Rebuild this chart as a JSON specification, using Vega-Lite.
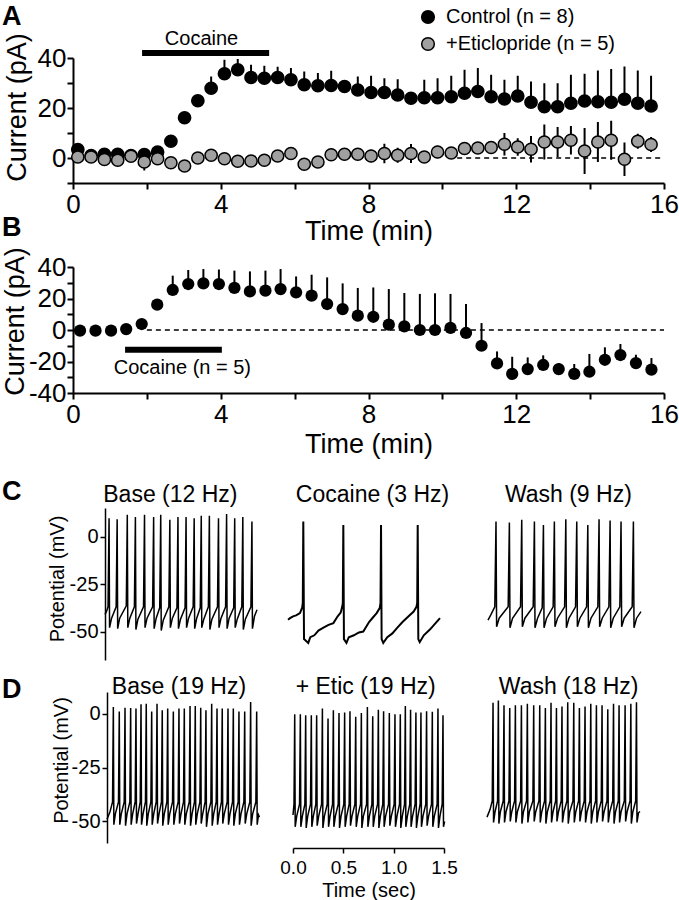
{
  "$schema": "https://vega.github.io/schema/vega-lite/v6.json",
  "autosize": {"type": "none"},
  "padding": {"left": 73, "top": 58, "right": 606, "bottom": 842},
  "spacing": 0,
  "bounds": "flush",
  "datasets": {
    "ptsA": [
      {"t":0.13,"v":3.4,"lo":3.4,"hi":4.4,"group":"Control (n = 8)"},
      {"t":0.49,"v":1.0,"lo":1.0,"hi":2.0,"group":"Control (n = 8)"},
      {"t":0.85,"v":1.5,"lo":1.5,"hi":2.5,"group":"Control (n = 8)"},
      {"t":1.21,"v":1.5,"lo":1.5,"hi":2.5,"group":"Control (n = 8)"},
      {"t":1.57,"v":1.0,"lo":1.0,"hi":2.0,"group":"Control (n = 8)"},
      {"t":1.93,"v":1.4,"lo":1.4,"hi":2.4,"group":"Control (n = 8)"},
      {"t":2.29,"v":2.4,"lo":2.4,"hi":3.4,"group":"Control (n = 8)"},
      {"t":2.65,"v":6.7,"lo":6.7,"hi":8.0,"group":"Control (n = 8)"},
      {"t":3.02,"v":16.1,"lo":16.1,"hi":17.5,"group":"Control (n = 8)"},
      {"t":3.38,"v":22.9,"lo":22.9,"hi":24.5,"group":"Control (n = 8)"},
      {"t":3.74,"v":27.9,"lo":27.9,"hi":32.6,"group":"Control (n = 8)"},
      {"t":4.10,"v":33.7,"lo":33.7,"hi":39.3,"group":"Control (n = 8)"},
      {"t":4.46,"v":35.3,"lo":35.3,"hi":39.6,"group":"Control (n = 8)"},
      {"t":4.82,"v":32.2,"lo":32.2,"hi":37.3,"group":"Control (n = 8)"},
      {"t":5.18,"v":31.9,"lo":31.9,"hi":36.9,"group":"Control (n = 8)"},
      {"t":5.54,"v":32.2,"lo":32.2,"hi":36.5,"group":"Control (n = 8)"},
      {"t":5.90,"v":31.3,"lo":31.3,"hi":36.0,"group":"Control (n = 8)"},
      {"t":6.26,"v":29.3,"lo":29.3,"hi":34.6,"group":"Control (n = 8)"},
      {"t":6.63,"v":28.9,"lo":28.9,"hi":34.0,"group":"Control (n = 8)"},
      {"t":6.99,"v":29.0,"lo":29.0,"hi":34.9,"group":"Control (n = 8)"},
      {"t":7.35,"v":28.6,"lo":28.6,"hi":30.0,"group":"Control (n = 8)"},
      {"t":7.71,"v":27.2,"lo":27.2,"hi":32.6,"group":"Control (n = 8)"},
      {"t":8.07,"v":26.2,"lo":26.2,"hi":32.9,"group":"Control (n = 8)"},
      {"t":8.43,"v":26.2,"lo":26.2,"hi":31.9,"group":"Control (n = 8)"},
      {"t":8.79,"v":25.2,"lo":25.2,"hi":31.5,"group":"Control (n = 8)"},
      {"t":9.15,"v":23.9,"lo":23.9,"hi":25.0,"group":"Control (n = 8)"},
      {"t":9.51,"v":24.1,"lo":24.1,"hi":31.3,"group":"Control (n = 8)"},
      {"t":9.87,"v":24.1,"lo":24.1,"hi":31.9,"group":"Control (n = 8)"},
      {"t":10.24,"v":24.5,"lo":24.5,"hi":32.9,"group":"Control (n = 8)"},
      {"t":10.60,"v":25.9,"lo":25.9,"hi":35.3,"group":"Control (n = 8)"},
      {"t":10.96,"v":26.6,"lo":26.6,"hi":36.0,"group":"Control (n = 8)"},
      {"t":11.32,"v":24.5,"lo":24.5,"hi":33.3,"group":"Control (n = 8)"},
      {"t":11.68,"v":23.6,"lo":23.6,"hi":31.3,"group":"Control (n = 8)"},
      {"t":12.04,"v":24.8,"lo":24.8,"hi":32.9,"group":"Control (n = 8)"},
      {"t":12.40,"v":22.3,"lo":22.3,"hi":30.6,"group":"Control (n = 8)"},
      {"t":12.76,"v":20.5,"lo":20.5,"hi":29.9,"group":"Control (n = 8)"},
      {"t":13.12,"v":20.5,"lo":20.5,"hi":29.9,"group":"Control (n = 8)"},
      {"t":13.48,"v":21.9,"lo":21.9,"hi":33.3,"group":"Control (n = 8)"},
      {"t":13.85,"v":22.8,"lo":22.8,"hi":33.7,"group":"Control (n = 8)"},
      {"t":14.21,"v":22.5,"lo":22.5,"hi":35.0,"group":"Control (n = 8)"},
      {"t":14.57,"v":22.3,"lo":22.3,"hi":35.6,"group":"Control (n = 8)"},
      {"t":14.93,"v":23.5,"lo":23.5,"hi":36.6,"group":"Control (n = 8)"},
      {"t":15.29,"v":21.9,"lo":21.9,"hi":35.0,"group":"Control (n = 8)"},
      {"t":15.65,"v":20.8,"lo":20.8,"hi":32.9,"group":"Control (n = 8)"},
      {"t":0.13,"v":0.4,"lo":-0.6,"hi":1.4,"group":"+Eticlopride (n = 5)"},
      {"t":0.49,"v":0.4,"lo":-0.6,"hi":1.4,"group":"+Eticlopride (n = 5)"},
      {"t":0.85,"v":-0.6,"lo":-1.6,"hi":0.4,"group":"+Eticlopride (n = 5)"},
      {"t":1.21,"v":-0.9,"lo":-1.9,"hi":0.1,"group":"+Eticlopride (n = 5)"},
      {"t":1.57,"v":0.7,"lo":-0.3,"hi":1.7,"group":"+Eticlopride (n = 5)"},
      {"t":1.93,"v":-1.6,"lo":-5.0,"hi":1.8,"group":"+Eticlopride (n = 5)"},
      {"t":2.29,"v":-0.3,"lo":-1.3,"hi":0.7,"group":"+Eticlopride (n = 5)"},
      {"t":2.65,"v":-1.9,"lo":-3.4,"hi":-0.4,"group":"+Eticlopride (n = 5)"},
      {"t":3.02,"v":-3.2,"lo":-5.2,"hi":-1.2,"group":"+Eticlopride (n = 5)"},
      {"t":3.38,"v":0.0,"lo":-1.0,"hi":1.0,"group":"+Eticlopride (n = 5)"},
      {"t":3.74,"v":1.1,"lo":0.1,"hi":2.1,"group":"+Eticlopride (n = 5)"},
      {"t":4.10,"v":-0.3,"lo":-1.3,"hi":0.7,"group":"+Eticlopride (n = 5)"},
      {"t":4.46,"v":-1.3,"lo":-2.3,"hi":-0.3,"group":"+Eticlopride (n = 5)"},
      {"t":4.82,"v":-1.2,"lo":-2.2,"hi":-0.2,"group":"+Eticlopride (n = 5)"},
      {"t":5.18,"v":-0.9,"lo":-1.9,"hi":0.1,"group":"+Eticlopride (n = 5)"},
      {"t":5.54,"v":0.8,"lo":-0.2,"hi":1.8,"group":"+Eticlopride (n = 5)"},
      {"t":5.90,"v":1.8,"lo":0.8,"hi":2.8,"group":"+Eticlopride (n = 5)"},
      {"t":6.26,"v":-2.5,"lo":-4.0,"hi":-1.0,"group":"+Eticlopride (n = 5)"},
      {"t":6.63,"v":-1.6,"lo":-3.1,"hi":-0.1,"group":"+Eticlopride (n = 5)"},
      {"t":6.99,"v":1.3,"lo":-1.2,"hi":3.8,"group":"+Eticlopride (n = 5)"},
      {"t":7.35,"v":1.5,"lo":0.5,"hi":2.5,"group":"+Eticlopride (n = 5)"},
      {"t":7.71,"v":1.5,"lo":0.5,"hi":2.5,"group":"+Eticlopride (n = 5)"},
      {"t":8.07,"v":0.8,"lo":-1.7,"hi":3.3,"group":"+Eticlopride (n = 5)"},
      {"t":8.43,"v":1.8,"lo":-2.1,"hi":5.7,"group":"+Eticlopride (n = 5)"},
      {"t":8.79,"v":1.1,"lo":-1.9,"hi":4.1,"group":"+Eticlopride (n = 5)"},
      {"t":9.15,"v":1.8,"lo":-2.0,"hi":5.6,"group":"+Eticlopride (n = 5)"},
      {"t":9.51,"v":0.4,"lo":-0.6,"hi":1.4,"group":"+Eticlopride (n = 5)"},
      {"t":9.87,"v":2.4,"lo":-0.1,"hi":4.9,"group":"+Eticlopride (n = 5)"},
      {"t":10.24,"v":2.0,"lo":1.0,"hi":3.0,"group":"+Eticlopride (n = 5)"},
      {"t":10.60,"v":3.8,"lo":2.8,"hi":4.8,"group":"+Eticlopride (n = 5)"},
      {"t":10.96,"v":4.0,"lo":2.0,"hi":6.0,"group":"+Eticlopride (n = 5)"},
      {"t":11.32,"v":4.2,"lo":1.7,"hi":6.7,"group":"+Eticlopride (n = 5)"},
      {"t":11.68,"v":5.5,"lo":1.0,"hi":10.0,"group":"+Eticlopride (n = 5)"},
      {"t":12.04,"v":4.4,"lo":0.9,"hi":7.9,"group":"+Eticlopride (n = 5)"},
      {"t":12.40,"v":3.5,"lo":-1.8,"hi":8.8,"group":"+Eticlopride (n = 5)"},
      {"t":12.76,"v":6.4,"lo":-0.6,"hi":13.4,"group":"+Eticlopride (n = 5)"},
      {"t":13.12,"v":6.4,"lo":0.4,"hi":12.4,"group":"+Eticlopride (n = 5)"},
      {"t":13.48,"v":7.1,"lo":1.4,"hi":12.8,"group":"+Eticlopride (n = 5)"},
      {"t":13.85,"v":2.8,"lo":-6.4,"hi":12.0,"group":"+Eticlopride (n = 5)"},
      {"t":14.21,"v":6.4,"lo":-1.6,"hi":14.4,"group":"+Eticlopride (n = 5)"},
      {"t":14.57,"v":7.1,"lo":-0.7,"hi":14.9,"group":"+Eticlopride (n = 5)"},
      {"t":14.93,"v":-0.5,"lo":-7.2,"hi":6.2,"group":"+Eticlopride (n = 5)"},
      {"t":15.29,"v":6.7,"lo":3.7,"hi":9.7,"group":"+Eticlopride (n = 5)"},
      {"t":15.65,"v":5.4,"lo":2.4,"hi":8.4,"group":"+Eticlopride (n = 5)"}
    ],
    "ptsB": [
      {"t":0.19,"v":-0.4,"hi":1.0},{"t":0.61,"v":-0.4,"hi":1.0},{"t":1.03,"v":-0.4,"hi":1.0},
      {"t":1.44,"v":0.6,"hi":2.0},{"t":1.86,"v":3.8,"hi":5.0},{"t":2.28,"v":16.1,"hi":18.0},
      {"t":2.70,"v":25.4,"hi":34.5},{"t":3.12,"v":29.2,"hi":38.1},{"t":3.53,"v":29.6,"hi":38.7},
      {"t":3.95,"v":29.2,"hi":38.4},{"t":4.37,"v":26.7,"hi":37.7},{"t":4.79,"v":24.5,"hi":37.2},
      {"t":5.21,"v":25.0,"hi":37.7},{"t":5.62,"v":26.0,"hi":38.7},{"t":6.04,"v":23.9,"hi":34.0},
      {"t":6.46,"v":21.8,"hi":35.1},{"t":6.88,"v":16.5,"hi":33.4},{"t":7.30,"v":13.3,"hi":29.6},
      {"t":7.71,"v":9.1,"hi":26.7},{"t":8.13,"v":8.4,"hi":27.0},{"t":8.55,"v":3.4,"hi":26.0},
      {"t":8.97,"v":2.3,"hi":23.5},{"t":9.39,"v":0.0,"hi":22.9},{"t":9.80,"v":0.0,"hi":23.3},
      {"t":10.22,"v":1.3,"hi":22.9},{"t":10.64,"v":-1.9,"hi":16.5},{"t":11.06,"v":-10.0,"hi":4.4},
      {"t":11.48,"v":-21.2,"hi":-13.6},{"t":11.89,"v":-27.9,"hi":-17.0},{"t":12.31,"v":-24.8,"hi":-17.4},
      {"t":12.73,"v":-22.2,"hi":-16.1},{"t":13.15,"v":-24.8,"hi":-21.0},{"t":13.57,"v":-27.9,"hi":-21.6},
      {"t":13.98,"v":-26.5,"hi":-15.2},{"t":14.40,"v":-18.9,"hi":-11.0},{"t":14.82,"v":-15.9,"hi":-8.9},
      {"t":15.24,"v":-21.0,"hi":-15.7},{"t":15.66,"v":-25.2,"hi":-17.8}
    ],
    "cocA": [{"t":1.87,"t2":5.31,"v":42,"label":"Cocaine"}],
    "cocB": [{"t":1.41,"t2":4.03,"v":-12.5,"label":"Cocaine (n = 5)"}],
    "zeroA": [{"t":10.4,"t2":16,"v":0}],
    "zeroB": [{"t":2.0,"t2":16,"v":0}],
    "lblC": [{"label":"C"}],
    "lblD": [{"label":"D"}],
    "tC1": [{"label":"Base (12 Hz)"}],
    "tC2": [{"label":"Cocaine (3 Hz)"}],
    "tC3": [{"label":"Wash (9 Hz)"}],
    "tD1": [{"label":"Base (19 Hz)"}],
    "tD2": [{"label":"+ Etic (19 Hz)"}],
    "tD3": [{"label":"Wash (18 Hz)"}],
    "c1": [
      {"t":0,"v":-41},{"t":0.015,"v":-39.5},
      {"t":0.03,"v":-37},{"t":0.04,"v":9.6},{"t":0.045,"v":-48},{"t":0.065,"v":-43},
      {"t":0.11,"v":-37},{"t":0.12,"v":9.1},{"t":0.125,"v":-48.5},{"t":0.145,"v":-43},
      {"t":0.21,"v":-36.5},{"t":0.22,"v":11.4},{"t":0.225,"v":-48},{"t":0.245,"v":-43},
      {"t":0.29,"v":-37},{"t":0.30,"v":10.2},{"t":0.305,"v":-49},{"t":0.325,"v":-43.5},
      {"t":0.38,"v":-37},{"t":0.39,"v":11.4},{"t":0.395,"v":-48},{"t":0.415,"v":-43},
      {"t":0.47,"v":-37},{"t":0.48,"v":10.2},{"t":0.485,"v":-48.5},{"t":0.505,"v":-43},
      {"t":0.54,"v":-37.5},{"t":0.55,"v":11.4},{"t":0.555,"v":-49.5},{"t":0.575,"v":-44},
      {"t":0.63,"v":-37},{"t":0.64,"v":8.8},{"t":0.645,"v":-48},{"t":0.665,"v":-43},
      {"t":0.71,"v":-37.5},{"t":0.72,"v":10.2},{"t":0.725,"v":-48.5},{"t":0.745,"v":-43.5},
      {"t":0.79,"v":-37.5},{"t":0.80,"v":10.2},{"t":0.805,"v":-48},{"t":0.825,"v":-43},
      {"t":0.87,"v":-37},{"t":0.88,"v":9.6},{"t":0.885,"v":-48.5},{"t":0.905,"v":-43},
      {"t":0.94,"v":-37.5},{"t":0.95,"v":10.9},{"t":0.955,"v":-48},{"t":0.975,"v":-43.5},
      {"t":1.02,"v":-37},{"t":1.03,"v":10.9},{"t":1.035,"v":-49},{"t":1.055,"v":-43.5},
      {"t":1.11,"v":-37},{"t":1.12,"v":9.6},{"t":1.125,"v":-48},{"t":1.145,"v":-43},
      {"t":1.19,"v":-37},{"t":1.20,"v":11.8},{"t":1.205,"v":-48.5},{"t":1.225,"v":-43},
      {"t":1.27,"v":-37.5},{"t":1.28,"v":9.6},{"t":1.285,"v":-48},{"t":1.305,"v":-43.5},
      {"t":1.35,"v":-37},{"t":1.36,"v":10.2},{"t":1.365,"v":-49},{"t":1.385,"v":-43.5},
      {"t":1.44,"v":-37},{"t":1.45,"v":7.9},{"t":1.455,"v":-48.5},{"t":1.475,"v":-42},
      {"t":1.50,"v":-38.5}
    ],
    "c2": [
      {"t":0,"v":-43.8},{"t":0.02,"v":-43},{"t":0.05,"v":-42},{"t":0.08,"v":-41.5},{"t":0.118,"v":-40.3},
      {"t":0.14,"v":-37.5},{"t":0.146,"v":-35},{"t":0.151,"v":7.9},{"t":0.158,"v":-54},{"t":0.20,"v":-56},
      {"t":0.22,"v":-53},{"t":0.26,"v":-52},{"t":0.30,"v":-49.5},{"t":0.35,"v":-48},{"t":0.40,"v":-46.5},
      {"t":0.448,"v":-45.6},{"t":0.49,"v":-42},{"t":0.52,"v":-40},{"t":0.535,"v":-37},{"t":0.541,"v":-35},
      {"t":0.546,"v":6.1},{"t":0.552,"v":-54},{"t":0.577,"v":-56},{"t":0.60,"v":-53},{"t":0.65,"v":-52},
      {"t":0.70,"v":-50.5},{"t":0.743,"v":-50},{"t":0.80,"v":-45},{"t":0.84,"v":-42.5},{"t":0.875,"v":-40.3},
      {"t":0.905,"v":-37.7},{"t":0.913,"v":-35},{"t":0.918,"v":6.1},{"t":0.924,"v":-54},{"t":0.94,"v":-56},
      {"t":0.98,"v":-53},{"t":1.03,"v":-51},{"t":1.075,"v":-48.2},{"t":1.13,"v":-45},{"t":1.19,"v":-42},
      {"t":1.24,"v":-39.5},{"t":1.268,"v":-37},{"t":1.275,"v":-35},{"t":1.28,"v":6.1},{"t":1.286,"v":-54},
      {"t":1.30,"v":-55.6},{"t":1.34,"v":-52},{"t":1.40,"v":-49},{"t":1.45,"v":-46},{"t":1.50,"v":-43}
    ],
    "c3": [
      {"t":0,"v":-44},{"t":0.03,"v":-41},
      {"t":0.067,"v":-37},{"t":0.079,"v":7.9},{"t":0.085,"v":-47.5},{"t":0.11,"v":-43},
      {"t":0.199,"v":-37},{"t":0.211,"v":7.4},{"t":0.217,"v":-48},{"t":0.242,"v":-43},
      {"t":0.321,"v":-37},{"t":0.333,"v":8.8},{"t":0.339,"v":-47.5},{"t":0.364,"v":-43},
      {"t":0.446,"v":-37},{"t":0.458,"v":7.9},{"t":0.464,"v":-48},{"t":0.489,"v":-43},
      {"t":0.535,"v":-37.5},{"t":0.547,"v":6.1},{"t":0.553,"v":-48},{"t":0.578,"v":-43},
      {"t":0.643,"v":-37},{"t":0.655,"v":7.9},{"t":0.661,"v":-47.5},{"t":0.686,"v":-43},
      {"t":0.756,"v":-37},{"t":0.768,"v":9.1},{"t":0.774,"v":-48},{"t":0.799,"v":-43},
      {"t":0.864,"v":-37},{"t":0.876,"v":7.9},{"t":0.882,"v":-47.5},{"t":0.907,"v":-43},
      {"t":0.973,"v":-37},{"t":0.985,"v":6.1},{"t":0.991,"v":-48},{"t":1.016,"v":-43},
      {"t":1.084,"v":-37},{"t":1.096,"v":9.1},{"t":1.102,"v":-47.5},{"t":1.127,"v":-43},
      {"t":1.193,"v":-37},{"t":1.205,"v":8.4},{"t":1.211,"v":-48},{"t":1.236,"v":-43},
      {"t":1.301,"v":-37},{"t":1.313,"v":7.9},{"t":1.319,"v":-47.5},{"t":1.344,"v":-43},
      {"t":1.423,"v":-37},{"t":1.435,"v":7.9},{"t":1.441,"v":-48},{"t":1.466,"v":-43},
      {"t":1.51,"v":-39.5}
    ],
    "d1": [
      {"t":0,"v":-49},{"t":0.03,"v":-45.5},
      {"t":0.055,"v":-41},{"t":0.063,"v":3.0},{"t":0.068,"v":-51.5},{"t":0.083,"v":-46.5},
      {"t":0.114,"v":-41},{"t":0.122,"v":1.0},{"t":0.127,"v":-51.5},{"t":0.142,"v":-46.5},
      {"t":0.171,"v":-41},{"t":0.179,"v":2.7},{"t":0.184,"v":-52},{"t":0.199,"v":-46.5},
      {"t":0.227,"v":-41},{"t":0.235,"v":2.6},{"t":0.240,"v":-51.5},{"t":0.255,"v":-46.5},
      {"t":0.280,"v":-41},{"t":0.288,"v":2.3},{"t":0.293,"v":-51},{"t":0.308,"v":-46.5},
      {"t":0.330,"v":-41},{"t":0.338,"v":4.3},{"t":0.343,"v":-51.5},{"t":0.358,"v":-46.5},
      {"t":0.382,"v":-41},{"t":0.390,"v":4.6},{"t":0.395,"v":-52},{"t":0.410,"v":-46.5},
      {"t":0.436,"v":-41},{"t":0.444,"v":1.0},{"t":0.449,"v":-51.5},{"t":0.464,"v":-46.5},
      {"t":0.489,"v":-41},{"t":0.497,"v":4.6},{"t":0.502,"v":-51},{"t":0.517,"v":-46.5},
      {"t":0.541,"v":-41},{"t":0.549,"v":1.5},{"t":0.554,"v":-52},{"t":0.569,"v":-46.5},
      {"t":0.595,"v":-41},{"t":0.603,"v":2.3},{"t":0.608,"v":-51.5},{"t":0.623,"v":-46.5},
      {"t":0.651,"v":-41},{"t":0.659,"v":1.0},{"t":0.664,"v":-51.5},{"t":0.679,"v":-46.5},
      {"t":0.707,"v":-41},{"t":0.715,"v":2.3},{"t":0.720,"v":-51},{"t":0.735,"v":-46.5},
      {"t":0.760,"v":-41},{"t":0.768,"v":2.3},{"t":0.773,"v":-51.5},{"t":0.788,"v":-46.5},
      {"t":0.817,"v":-41},{"t":0.825,"v":3.5},{"t":0.830,"v":-52},{"t":0.845,"v":-46.5},
      {"t":0.869,"v":-41},{"t":0.877,"v":3.5},{"t":0.882,"v":-51.5},{"t":0.897,"v":-46.5},
      {"t":0.923,"v":-41},{"t":0.931,"v":2.7},{"t":0.936,"v":-51},{"t":0.951,"v":-46.5},
      {"t":0.975,"v":-41},{"t":0.983,"v":1.5},{"t":0.988,"v":-52.5},{"t":1.003,"v":-46.5},
      {"t":1.032,"v":-41},{"t":1.040,"v":4.6},{"t":1.045,"v":-52},{"t":1.060,"v":-46.5},
      {"t":1.085,"v":-41},{"t":1.093,"v":2.3},{"t":1.098,"v":-51.5},{"t":1.113,"v":-46.5},
      {"t":1.137,"v":-41},{"t":1.145,"v":2.3},{"t":1.150,"v":-51},{"t":1.165,"v":-46.5},
      {"t":1.194,"v":-41},{"t":1.202,"v":2.3},{"t":1.207,"v":-51.5},{"t":1.222,"v":-46.5},
      {"t":1.247,"v":-41},{"t":1.255,"v":2.3},{"t":1.260,"v":-52},{"t":1.275,"v":-46.5},
      {"t":1.303,"v":-41},{"t":1.311,"v":1.0},{"t":1.316,"v":-51.5},{"t":1.331,"v":-46.5},
      {"t":1.360,"v":-41},{"t":1.368,"v":1.0},{"t":1.373,"v":-51},{"t":1.388,"v":-46.5},
      {"t":1.419,"v":-41},{"t":1.427,"v":5.4},{"t":1.432,"v":-52},{"t":1.447,"v":-46.5},
      {"t":1.479,"v":-41},{"t":1.487,"v":1.0},{"t":1.492,"v":-51.5},{"t":1.505,"v":-47},
      {"t":1.515,"v":-48}
    ],
    "d2": [
      {"t":0,"v":-47},
      {"t":0.010,"v":-42},{"t":0.017,"v":-0.3},{"t":0.022,"v":-52.5},{"t":0.037,"v":-47.5},
      {"t":0.065,"v":-42},{"t":0.073,"v":-0.3},{"t":0.078,"v":-52.5},{"t":0.093,"v":-47.5},
      {"t":0.118,"v":-42},{"t":0.126,"v":-0.8},{"t":0.131,"v":-53},{"t":0.146,"v":-47.5},
      {"t":0.174,"v":-42},{"t":0.182,"v":-0.8},{"t":0.187,"v":-52.5},{"t":0.202,"v":-47.5},
      {"t":0.227,"v":-42},{"t":0.235,"v":-0.8},{"t":0.240,"v":-52},{"t":0.255,"v":-47.5},
      {"t":0.284,"v":-42},{"t":0.292,"v":2.3},{"t":0.297,"v":-53},{"t":0.312,"v":-47.5},
      {"t":0.340,"v":-42},{"t":0.348,"v":-2.3},{"t":0.353,"v":-52.5},{"t":0.368,"v":-47.5},
      {"t":0.393,"v":-42},{"t":0.401,"v":1.5},{"t":0.406,"v":-52.5},{"t":0.421,"v":-47.5},
      {"t":0.449,"v":-42},{"t":0.457,"v":0.3},{"t":0.462,"v":-53},{"t":0.477,"v":-47.5},
      {"t":0.505,"v":-42},{"t":0.513,"v":0.5},{"t":0.518,"v":-52.5},{"t":0.533,"v":-47.5},
      {"t":0.558,"v":-42},{"t":0.566,"v":1.1},{"t":0.571,"v":-52},{"t":0.586,"v":-47.5},
      {"t":0.615,"v":-42},{"t":0.623,"v":-1.5},{"t":0.628,"v":-52.5},{"t":0.643,"v":-47.5},
      {"t":0.671,"v":-42},{"t":0.679,"v":0.3},{"t":0.684,"v":-53},{"t":0.699,"v":-47.5},
      {"t":0.731,"v":-42},{"t":0.739,"v":3.0},{"t":0.744,"v":-52.5},{"t":0.759,"v":-47.5},
      {"t":0.784,"v":-42},{"t":0.792,"v":-1.2},{"t":0.797,"v":-52.5},{"t":0.812,"v":-47.5},
      {"t":0.840,"v":-42},{"t":0.848,"v":1.8},{"t":0.853,"v":-53},{"t":0.868,"v":-47.5},
      {"t":0.892,"v":-42},{"t":0.900,"v":1.1},{"t":0.905,"v":-52.5},{"t":0.920,"v":-47.5},
      {"t":0.949,"v":-42},{"t":0.957,"v":0.3},{"t":0.962,"v":-52},{"t":0.977,"v":-47.5},
      {"t":1.005,"v":-42},{"t":1.013,"v":-0.3},{"t":1.018,"v":-52.5},{"t":1.033,"v":-47.5},
      {"t":1.058,"v":-42},{"t":1.066,"v":-0.3},{"t":1.071,"v":-53},{"t":1.086,"v":-47.5},
      {"t":1.108,"v":-42},{"t":1.116,"v":3.5},{"t":1.121,"v":-52.5},{"t":1.136,"v":-47.5},
      {"t":1.160,"v":-42},{"t":1.168,"v":1.8},{"t":1.173,"v":-52.5},{"t":1.188,"v":-47.5},
      {"t":1.213,"v":-42},{"t":1.221,"v":0.5},{"t":1.226,"v":-53},{"t":1.241,"v":-47.5},
      {"t":1.263,"v":-42},{"t":1.271,"v":0.5},{"t":1.276,"v":-52.5},{"t":1.291,"v":-47.5},
      {"t":1.319,"v":-42},{"t":1.327,"v":1.1},{"t":1.332,"v":-52},{"t":1.347,"v":-47.5},
      {"t":1.376,"v":-42},{"t":1.384,"v":0.8},{"t":1.389,"v":-52.5},{"t":1.404,"v":-47.5},
      {"t":1.432,"v":-42},{"t":1.440,"v":2.3},{"t":1.445,"v":-53},{"t":1.460,"v":-47.5},
      {"t":1.482,"v":-42},{"t":1.490,"v":-0.8},{"t":1.495,"v":-52.5},{"t":1.506,"v":-50}
    ],
    "d3": [
      {"t":0,"v":-48},{"t":0.03,"v":-44.5},
      {"t":0.052,"v":-40.5},{"t":0.060,"v":5.0},{"t":0.065,"v":-50.5},{"t":0.080,"v":-45.5},
      {"t":0.105,"v":-40.5},{"t":0.113,"v":6.1},{"t":0.118,"v":-51},{"t":0.133,"v":-45.5},
      {"t":0.161,"v":-40.5},{"t":0.169,"v":3.8},{"t":0.174,"v":-50.5},{"t":0.189,"v":-45.5},
      {"t":0.218,"v":-40.5},{"t":0.226,"v":2.6},{"t":0.231,"v":-50},{"t":0.246,"v":-45.5},
      {"t":0.274,"v":-40.5},{"t":0.282,"v":3.8},{"t":0.287,"v":-50.5},{"t":0.302,"v":-45.5},
      {"t":0.334,"v":-40.5},{"t":0.342,"v":3.8},{"t":0.347,"v":-51},{"t":0.362,"v":-45.5},
      {"t":0.393,"v":-40.5},{"t":0.401,"v":4.6},{"t":0.406,"v":-50.5},{"t":0.421,"v":-45.5},
      {"t":0.456,"v":-40.5},{"t":0.464,"v":3.8},{"t":0.469,"v":-50},{"t":0.484,"v":-45.5},
      {"t":0.516,"v":-40.5},{"t":0.524,"v":3.8},{"t":0.529,"v":-50.5},{"t":0.544,"v":-45.5},
      {"t":0.572,"v":-40.5},{"t":0.580,"v":2.6},{"t":0.585,"v":-51},{"t":0.600,"v":-45.5},
      {"t":0.628,"v":-40.5},{"t":0.636,"v":5.0},{"t":0.641,"v":-50.5},{"t":0.656,"v":-45.5},
      {"t":0.682,"v":-40.5},{"t":0.690,"v":2.6},{"t":0.695,"v":-50},{"t":0.710,"v":-45.5},
      {"t":0.737,"v":-40.5},{"t":0.745,"v":3.3},{"t":0.750,"v":-50.5},{"t":0.765,"v":-45.5},
      {"t":0.794,"v":-40.5},{"t":0.802,"v":5.3},{"t":0.807,"v":-51},{"t":0.822,"v":-45.5},
      {"t":0.854,"v":-40.5},{"t":0.862,"v":5.0},{"t":0.867,"v":-50.5},{"t":0.882,"v":-45.5},
      {"t":0.910,"v":-40.5},{"t":0.918,"v":2.6},{"t":0.923,"v":-50},{"t":0.938,"v":-45.5},
      {"t":0.966,"v":-40.5},{"t":0.974,"v":3.3},{"t":0.979,"v":-50.5},{"t":0.994,"v":-45.5},
      {"t":1.023,"v":-40.5},{"t":1.031,"v":4.6},{"t":1.036,"v":-51},{"t":1.051,"v":-45.5},
      {"t":1.079,"v":-40.5},{"t":1.087,"v":3.8},{"t":1.092,"v":-50.5},{"t":1.107,"v":-45.5},
      {"t":1.135,"v":-40.5},{"t":1.143,"v":3.8},{"t":1.148,"v":-50},{"t":1.163,"v":-45.5},
      {"t":1.192,"v":-40.5},{"t":1.200,"v":2.0},{"t":1.205,"v":-50.5},{"t":1.220,"v":-45.5},
      {"t":1.249,"v":-40.5},{"t":1.257,"v":4.6},{"t":1.262,"v":-51},{"t":1.277,"v":-45.5},
      {"t":1.304,"v":-40.5},{"t":1.312,"v":3.8},{"t":1.317,"v":-50.5},{"t":1.332,"v":-45.5},
      {"t":1.364,"v":-40.5},{"t":1.372,"v":3.8},{"t":1.377,"v":-50},{"t":1.392,"v":-45.5},
      {"t":1.421,"v":-40.5},{"t":1.429,"v":4.6},{"t":1.434,"v":-51},{"t":1.449,"v":-45.5},
      {"t":1.477,"v":-40.5},{"t":1.485,"v":5.3},{"t":1.490,"v":-50.5},{"t":1.505,"v":-46},
      {"t":1.52,"v":-45.4}
    ]
  },
  "vconcat": [
    {
      "width": 591, "height": 125,
      "encoding": {
        "x": {"field": "t", "type": "quantitative", "scale": {"domain": [0, 16], "nice": false, "zero": false},
          "axis": {"values": [0,2,4,6,8,10,12,14,16], "labelExpr": "datum.value % 4 === 0 ? datum.label : ''", "title": "Time (min)", "tickSize": 6, "labelPadding": 2, "labelFontSize": 26, "titleFontSize": 27, "titleY": 56, "titleBaseline": "alphabetic"}},
        "y": {"field": "v", "type": "quantitative", "scale": {"domain": [-10, 40], "nice": false, "zero": false},
          "axis": {"values": [-10,0,10,20,30,40], "labelExpr": "datum.value % 20 === 0 ? '' + datum.value : ''", "title": "Current (pA)", "tickSize": 6, "labelPadding": 1, "labelFontSize": 26, "titleFontSize": 27, "titleX": -48, "titleY": 49, "titleBaseline": "alphabetic"}}
      },
      "layer": [
        {"data": {"name": "cocA"}, "mark": {"type": "rule", "strokeWidth": 6, "color": "black", "strokeCap": "butt"}, "encoding": {"x2": {"field": "t2"}}},
        {"data": {"name": "cocA"}, "mark": {"type": "text", "fontSize": 20, "align": "center", "baseline": "alphabetic", "color": "black"}, "encoding": {"x": {"datum": 3.48}, "y": {"datum": 45.4}, "text": {"field": "label"}}},
        {"data": {"name": "zeroA"}, "mark": {"type": "rule", "strokeWidth": 1.5, "color": "black", "strokeDash": [5, 4]}, "encoding": {"x2": {"field": "t2"}}},
        {"data": {"name": "ptsA"}, "mark": {"type": "rule", "strokeWidth": 2, "color": "black"}, "encoding": {"y": {"field": "lo", "type": "quantitative"}, "y2": {"field": "hi"}}},
        {"data": {"name": "ptsA"}, "mark": {"type": "circle", "size": 150, "opacity": 1, "stroke": "black", "strokeWidth": 1.5},
          "encoding": {"fill": {"field": "group", "type": "nominal", "scale": {"domain": ["Control (n = 8)", "+Eticlopride (n = 5)"], "range": ["black", "#a0a0a0"]},
            "legend": {"orient": "none", "legendX": 345, "legendY": -51, "title": null, "direction": "vertical", "labelFontSize": 20, "labelFont": "Liberation Sans", "labelColor": "black", "labelLimit": 400, "symbolSize": 160, "symbolType": "circle", "symbolStrokeColor": "black", "symbolStrokeWidth": 1.5, "symbolOpacity": 1, "rowPadding": 7, "labelOffset": 8, "padding": 0}}}},
        {"data": {"name": "cocA"}, "mark": {"type": "text", "fontSize": 27, "fontWeight": "bold", "align": "left", "baseline": "alphabetic", "color": "black"}, "encoding": {"x": {"datum": -1.92}, "y": {"datum": 53.4}, "text": {"value": "A"}}}
      ]
    },
    {
      "width": 591, "height": 210,
      "encoding": {
        "x": {"field": "t", "type": "quantitative", "scale": {"domain": [0, 16], "nice": false, "zero": false},
          "axis": {"values": [0,2,4,6,8,10,12,14,16], "labelExpr": "datum.value % 4 === 0 ? datum.label : ''", "title": "Time (min)", "tickSize": 6, "labelPadding": 2, "labelFontSize": 26, "titleFontSize": 27, "titleY": 59, "titleBaseline": "alphabetic"}},
        "y": {"field": "v", "type": "quantitative", "scale": {"domain": [-40, 40], "range": [210, 84], "nice": false, "zero": false},
          "axis": {"values": [-40,-30,-20,-10,0,10,20,30,40], "labelExpr": "datum.value % 20 === 0 ? '' + datum.value : ''", "title": "Current (pA)", "tickSize": 6, "labelPadding": 1, "labelFontSize": 26, "titleFontSize": 27, "titleX": -50, "titleY": 138, "titleBaseline": "alphabetic"}}
      },
      "layer": [
        {"data": {"name": "cocB"}, "mark": {"type": "rule", "strokeWidth": 6, "color": "black", "strokeCap": "butt"}, "encoding": {"x2": {"field": "t2"}}},
        {"data": {"name": "cocB"}, "mark": {"type": "text", "fontSize": 20, "align": "center", "baseline": "alphabetic", "color": "black"}, "encoding": {"x": {"datum": 2.96}, "y": {"datum": -27.9}, "text": {"field": "label"}}},
        {"data": {"name": "zeroB"}, "mark": {"type": "rule", "strokeWidth": 1.5, "color": "black", "strokeDash": [5, 4]}, "encoding": {"x2": {"field": "t2"}}},
        {"data": {"name": "ptsB"}, "mark": {"type": "rule", "strokeWidth": 2, "color": "black"}, "encoding": {"y2": {"field": "hi"}}},
        {"data": {"name": "ptsB"}, "mark": {"type": "circle", "size": 150, "opacity": 1, "color": "black"}},
        {"data": {"name": "cocB"}, "mark": {"type": "text", "fontSize": 27, "fontWeight": "bold", "align": "left", "baseline": "alphabetic", "color": "black"}, "encoding": {"x": {"datum": -1.92}, "y": {"datum": 59.9}, "text": {"value": "B"}}}
      ]
    },
    {
      "width": 591, "height": 267,
      "resolve": {"scale": {"x": "independent"}, "axis": {"x": "independent"}},
      "layer": [
        {
          "layer": [
            {"data": {"name": "c1"}, "mark": {"type": "line", "color": "black", "strokeWidth": 1.5},
              "encoding": {
                "x": {"field": "t", "type": "quantitative", "scale": {"domain": [0, 1.5], "range": [32, 184], "nice": false, "zero": false}, "axis": null},
                "y": {"field": "v", "type": "quantitative", "scale": {"domain": [-65, 15], "range": [267, 115], "nice": false, "zero": false},
                  "axis": {"values": [0, -25, -50], "labelExpr": "'' + datum.value", "title": "Potential (mV)", "offset": -32, "tickSize": 5, "labelPadding": 2, "labelFontSize": 20, "titleFontSize": 20, "titleX": -42, "titleY": 185.5, "titleBaseline": "alphabetic", "domainWidth": 1.5, "tickWidth": 1.5}}}},
            {"data": {"name": "tC1"}, "mark": {"type": "text", "fontSize": 23, "align": "center", "baseline": "alphabetic", "color": "black"},
              "encoding": {"x": {"datum": 0.645, "axis": null}, "y": {"datum": 18.3}, "text": {"field": "label"}}},
            {"data": {"name": "lblC"}, "mark": {"type": "text", "fontSize": 27, "fontWeight": "bold", "align": "left", "baseline": "alphabetic", "color": "black"},
              "encoding": {"x": {"datum": -1.017, "axis": null}, "y": {"datum": 19.3}, "text": {"field": "label"}}}
          ]
        },
        {
          "layer": [
            {"data": {"name": "c2"}, "mark": {"type": "line", "color": "black", "strokeWidth": 2},
              "encoding": {
                "x": {"field": "t", "type": "quantitative", "scale": {"domain": [0, 1.5], "range": [215, 367], "nice": false, "zero": false}, "axis": null},
                "y": {"field": "v", "type": "quantitative"}}},
            {"data": {"name": "tC2"}, "mark": {"type": "text", "fontSize": 23, "align": "center", "baseline": "alphabetic", "color": "black"},
              "encoding": {"x": {"datum": 0.834, "axis": null}, "y": {"datum": 18.3}, "text": {"field": "label"}}}
          ]
        },
        {
          "layer": [
            {"data": {"name": "c3"}, "mark": {"type": "line", "color": "black", "strokeWidth": 1.5},
              "encoding": {
                "x": {"field": "t", "type": "quantitative", "scale": {"domain": [0, 1.51], "range": [415, 568], "nice": false, "zero": false}, "axis": null},
                "y": {"field": "v", "type": "quantitative"}}},
            {"data": {"name": "tC3"}, "mark": {"type": "text", "fontSize": 23, "align": "center", "baseline": "alphabetic", "color": "black"},
              "encoding": {"x": {"datum": 0.793, "axis": null}, "y": {"datum": 18.3}, "text": {"field": "label"}}}
          ]
        }
      ]
    },
    {
      "width": 591, "height": 183,
      "resolve": {"scale": {"x": "independent"}, "axis": {"x": "independent"}},
      "layer": [
        {
          "layer": [
            {"data": {"name": "d1"}, "mark": {"type": "line", "color": "black", "strokeWidth": 1.5},
              "encoding": {
                "x": {"field": "t", "type": "quantitative", "scale": {"domain": [0, 1.52], "range": [34, 187], "nice": false, "zero": false}, "axis": null},
                "y": {"field": "v", "type": "quantitative", "scale": {"domain": [-60, 10], "range": [183, 32], "nice": false, "zero": false},
                  "axis": {"values": [0, -25, -50], "labelExpr": "'' + datum.value", "title": "Potential (mV)", "offset": -34, "tickSize": 5, "labelPadding": 2, "labelFontSize": 20, "titleFontSize": 20, "titleX": -40, "titleY": 100, "titleBaseline": "alphabetic", "domainWidth": 1.5, "tickWidth": 1.5}}}},
            {"data": {"name": "tD1"}, "mark": {"type": "text", "fontSize": 23, "align": "center", "baseline": "alphabetic", "color": "black"},
              "encoding": {"x": {"datum": 0.715, "axis": null}, "y": {"datum": 9.2}, "text": {"field": "label"}}},
            {"data": {"name": "lblD"}, "mark": {"type": "text", "fontSize": 27, "fontWeight": "bold", "align": "left", "baseline": "alphabetic", "color": "black"},
              "encoding": {"x": {"datum": -1.043, "axis": null}, "y": {"datum": 7.1}, "text": {"field": "label"}}}
          ]
        },
        {
          "layer": [
            {"data": {"name": "d2"}, "mark": {"type": "line", "color": "black", "strokeWidth": 1.5},
              "encoding": {
                "x": {"field": "t", "type": "quantitative", "scale": {"domain": [0, 1.5], "range": [220, 371], "nice": false, "zero": false},
                  "axis": {"orient": "bottom", "offset": 5, "values": [0, 0.5, 1, 1.5], "format": ".1f", "title": "Time (sec)", "tickSize": 5, "labelPadding": 5, "labelFontSize": 19, "titleFontSize": 20, "titleY": 48, "titleBaseline": "alphabetic", "domainWidth": 1.5, "tickWidth": 1.5}},
                "y": {"field": "v", "type": "quantitative"}}},
            {"data": {"name": "tD2"}, "mark": {"type": "text", "fontSize": 23, "align": "center", "baseline": "alphabetic", "color": "black"},
              "encoding": {"x": {"datum": 0.722}, "y": {"datum": 9.2}, "text": {"field": "label"}}}
          ]
        },
        {
          "layer": [
            {"data": {"name": "d3"}, "mark": {"type": "line", "color": "black", "strokeWidth": 1.5},
              "encoding": {
                "x": {"field": "t", "type": "quantitative", "scale": {"domain": [0, 1.52], "range": [414, 567], "nice": false, "zero": false}, "axis": null},
                "y": {"field": "v", "type": "quantitative"}}},
            {"data": {"name": "tD3"}, "mark": {"type": "text", "fontSize": 23, "align": "center", "baseline": "alphabetic", "color": "black"},
              "encoding": {"x": {"datum": 0.811, "axis": null}, "y": {"datum": 9.2}, "text": {"field": "label"}}}
          ]
        }
      ]
    }
  ],
  "config": {
    "view": {"stroke": null},
    "font": "Liberation Sans",
    "axis": {"domainColor": "black", "tickColor": "black", "labelColor": "black", "titleColor": "black", "grid": false, "domainWidth": 2, "tickWidth": 2, "titleFontWeight": "normal", "labelFont": "Liberation Sans", "titleFont": "Liberation Sans", "labelFlush": false, "labelOverlap": false}
  }
}
